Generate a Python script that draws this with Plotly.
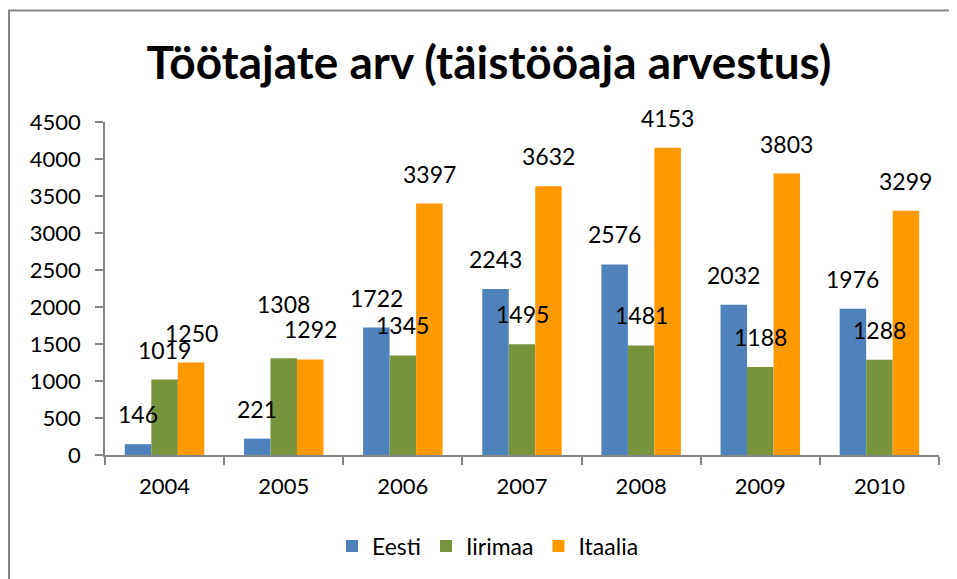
import plotly.graph_objects as go

years = ["2004", "2005", "2006", "2007", "2008", "2009", "2010"]
eesti = [146, 221, 1722, 2243, 2576, 2032, 1976]
iirimaa = [1019, 1308, 1345, 1495, 1481, 1188, 1288]
itaalia = [1250, 1292, 3397, 3632, 4153, 3803, 3299]
series_names = ["Eesti", "Iirimaa", "Itaalia"]
colors = ["#4F81BD", "#77933C", "#FF9900"]
title_text = "Töötajate arv (täistööaja arvestus)"

# extra vertical nudge (px) for labels moved to avoid overlap, as in the reference
label_nudge = {("Iirimaa", "2005"): 24}

W, H = 957, 579
OFF = 8  # page body margin offset
ml, mr, mt, mb = 105 - OFF, 18 + OFF, 122 - OFF, 124 + OFF
FONT = "Lato, 'Open Sans', sans-serif"

fig = go.Figure()
all_series = [eesti, iirimaa, itaalia]
for name, vals, col in zip(series_names, all_series, colors):
    fig.add_trace(go.Bar(x=years, y=vals, name=name, marker=dict(color=col, line=dict(width=0))))

plot_w = W - ml - mr
cat_w = plot_w / len(years)
bargap = 0.333
bar_w = cat_w * (1 - bargap) / 3

annotations = []
for i, (name, vals) in enumerate(zip(series_names, all_series)):
    for j, v in enumerate(vals):
        annotations.append(dict(x=j, y=v, xref="x", yref="y", text=str(v), showarrow=False,
                                xshift=(i - 1) * bar_w,
                                yshift=14 + label_nudge.get((name, years[j]), 0),
                                yanchor="bottom",
                                font=dict(family=FONT, size=23, color="#000000")))

plot_h = H - mt - mb
px_x = lambda p: (p - OFF - ml) / plot_w
px_y = lambda p: (H - mb - (p - OFF)) / plot_h
fig.add_shape(type="path", xref="paper", yref="paper",
              path=f"M {px_x(9):.4f},{px_y(700):.4f} L {px_x(9):.4f},{px_y(10.5):.4f} L {px_x(1100):.4f},{px_y(10.5):.4f}",
              line=dict(color="#868686", width=2))

fig.update_layout(
    width=W, height=H,
    margin=dict(l=ml, r=mr, t=mt, b=mb, autoexpand=False),
    paper_bgcolor="white", plot_bgcolor="white",
    barmode="group", bargap=bargap, bargroupgap=0,
    font=dict(family=FONT, size=22, color="#000000"),
    title=dict(text=f"<b>{title_text}</b>", x=(489 - OFF) / W, xref="container", xanchor="center",
               y=1 - (63 - OFF) / H, yref="container", yanchor="middle",
               font=dict(family=FONT, size=46, color="#000000")),
    legend=dict(orientation="h", xref="container", yref="container", x=(493 - 13) / W, xanchor="center",
                y=1 - (546 - OFF) / H, yanchor="middle", font=dict(size=23), itemwidth=30,
                traceorder="normal"),
    annotations=annotations,
    xaxis=dict(type="category", range=[-0.5, len(years) - 0.5], showline=True, linecolor="#868686",
               linewidth=1.5, ticks="outside", tickson="boundaries", ticklen=8, tickcolor="#868686",
               tickwidth=1.5, showgrid=False, tickfont=dict(size=22), tickangle=0, automargin=False,
               ticklabelstandoff=11),
    yaxis=dict(range=[0, 4500], dtick=500, showline=True, linecolor="#868686", linewidth=1.5,
               ticks="outside", ticklen=8, tickcolor="#868686", tickwidth=1.5,
               showgrid=False, zeroline=False, tickfont=dict(size=22), ticklabelstandoff=10,
               automargin=False),
)

fig.write_html("out.html")
